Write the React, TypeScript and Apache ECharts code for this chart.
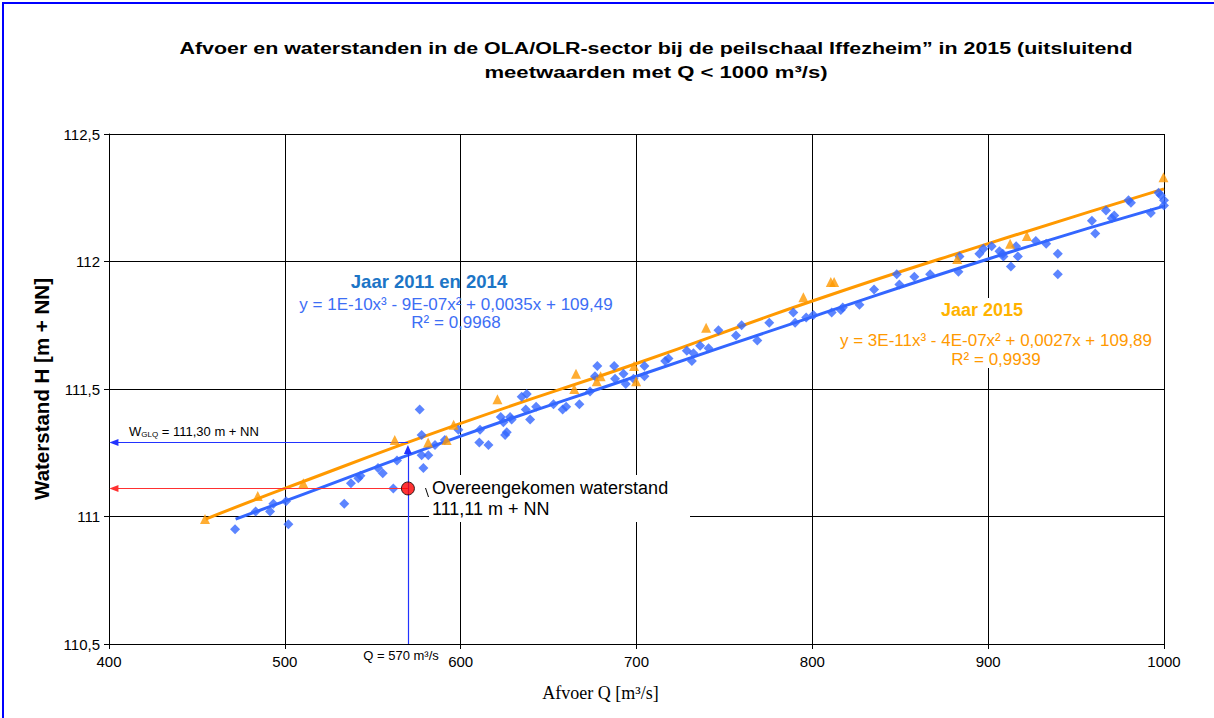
import React, { useEffect, useRef } from "react";
import * as echarts from "echarts";

// ---------- data ----------
const titleLine1 =
  "Afvoer en waterstanden in de OLA/OLR-sector bij de peilschaal Iffezheim\u201d in 2015 (uitsluitend";
const titleLine2 = "meetwaarden met Q < 1000 m\u00b3/s)";
const xAxisName = "Afvoer Q [m\u00b3/s]";
const yAxisName = "Waterstand H [m + NN]";

const xRange = [400, 1000];
const xStep = 100;
const yRange = [110.5, 112.5];
const yStep = 0.5;

// Measurements 2011 and 2014 [Q, H]
const meas2011_2014: number[][] = [
  [471.7, 110.95], [483.4, 111.02], [491.6, 111.02], [493.5, 111.05], [500.7, 111.06],
  [502, 110.97], [533.8, 111.05], [537.6, 111.13], [541.8, 111.15], [543, 111.16],
  [553, 111.19], [555.7, 111.17], [561.7, 111.11], [563.8, 111.22], [576.7, 111.42],
  [577.8, 111.32], [577.8, 111.24], [578.8, 111.19], [581.6, 111.24], [585.4, 111.28],
  [591, 111.3], [598.7, 111.34], [611, 111.34], [610.6, 111.29], [615.8, 111.28],
  [622.8, 111.39], [624.3, 111.37], [625.3, 111.32], [626.2, 111.33], [628.1, 111.39],
  [629, 111.38], [634.7, 111.47], [637.6, 111.48], [637, 111.42], [639.5, 111.38],
  [642.9, 111.43], [652.8, 111.44], [658, 111.42], [660, 111.43], [667.5, 111.44],
  [673.6, 111.49], [676.4, 111.55], [677.7, 111.59], [687.3, 111.59], [687.8, 111.54],
  [692.6, 111.56], [693.9, 111.52], [698.3, 111.54], [704.5, 111.59], [704.5, 111.55],
  [716.3, 111.61], [718.2, 111.62], [728.6, 111.65], [731.5, 111.61], [732.4, 111.64],
  [736.2, 111.67], [741, 111.66], [746.6, 111.73], [756.6, 111.71], [759.8, 111.75],
  [768.7, 111.69], [775.5, 111.76], [789.2, 111.8], [790.2, 111.76], [796.5, 111.78],
  [800.6, 111.79], [811, 111.8], [816.2, 111.81], [817.3, 111.82], [826.8, 111.83],
  [835.1, 111.89], [848, 111.95], [849.5, 111.91], [858, 111.94], [867, 111.95],
  [883.1, 111.96], [883.7, 112.02], [895, 112.03], [897.3, 112.05], [902, 112.06],
  [906.4, 112.04], [908.3, 112.03], [908.7, 112.02], [912.9, 111.98], [915.9, 112.06],
  [916.9, 112.02], [927.1, 112.08], [933, 112.07], [939.6, 112.03], [939.6, 111.95],
  [959, 112.16], [960.9, 112.11], [967, 112.2], [970.3, 112.17], [971.7, 112.18],
  [979.8, 112.24], [981.2, 112.23], [992.5, 112.19], [996.9, 112.27], [998.2, 112.26],
  [1000, 112.24], [1000, 112.22],
];

// Measurements 2015 [Q, H]
const meas2015: number[][] = [
  [454.6, 110.99], [484.6, 111.08], [510.5, 111.13], [562.5, 111.3], [581.5, 111.29],
  [592, 111.3], [596, 111.36], [620.9, 111.46], [664.6, 111.5], [665.6, 111.56],
  [677.4, 111.53], [679.6, 111.55], [698.6, 111.59], [699.8, 111.53], [739.6, 111.74],
  [794.9, 111.86], [810.5, 111.92], [812.4, 111.92], [882.4, 112.01], [912.5, 112.07],
  [922, 112.1], [999.7, 112.33],
];

// Trend lines [Q, H]
const trend2011_2014: number[][] = [
  [472, 110.99], [500, 111.06], [600, 111.315], [700, 111.55], [800, 111.783], [900, 112.01], [1000, 112.217],
];
const trend2015: number[][] = [
  [455, 110.99], [500, 111.11], [600, 111.365], [700, 111.6], [800, 111.845], [900, 112.07], [1000, 112.285],
];

const label2011 = "Jaar 2011 en 2014";
const eq2011 = "y = 1E-10x\u00b3 - 9E-07x\u00b2 + 0,0035x + 109,49";
const r2011 = "R\u00b2 = 0,9968";
const label2015 = "Jaar 2015";
const eq2015 = "y = 3E-11x\u00b3 - 4E-07x\u00b2 + 0,0027x + 109,89";
const r2015 = "R\u00b2 = 0,9939";

// Annotation values
const qGLQ = 570;
const hGLQ = 111.29;
const hGLQArrowTip = 111.263;
const hAgreed = 111.11;
const qArrowEnd = 402.8;
const textGLQ = ["W", "GLQ", " = 111,30 m + NN"];
const textQ = "Q = 570 m\u00b3/s";
const textAgreed1 = "Overeengekomen waterstand";
const textAgreed2 = "111,11 m + NN";

const FONT = "'Liberation Sans', Arial, sans-serif";
const SERIF = "'Liberation Serif', 'Times New Roman', serif";

function arrowSeries(name: string, from: number[], to: number[], color: string, size: number[]) {
  return {
    type: "scatter",
    name,
    data: [],
    silent: true,
    markLine: {
      silent: true,
      animation: false,
      symbol: ["none", "triangle"],
      symbolSize: size,
      label: { show: false },
      emphasis: { disabled: true },
      lineStyle: { color, width: 1.2, type: "solid" },
      data: [[{ coord: from }, { coord: to }]],
    },
  };
}

export default function App() {
  const ref = useRef<HTMLDivElement>(null);

  useEffect(() => {
    document.body.style.margin = "0";
    if (!ref.current) return;
    const chart = echarts.init(ref.current, undefined, { renderer: "svg" });

    const option: any = {
      animation: false,
      backgroundColor: "#ffffff",
      grid: { left: 109, right: 50, top: 134, bottom: 74, containLabel: false },
      xAxis: {
        type: "value",
        min: xRange[0],
        max: xRange[1],
        interval: xStep,
        name: xAxisName,
        nameLocation: "middle",
        nameGap: 40,
        nameTextStyle: { fontFamily: SERIF, fontSize: 18, color: "#000", padding: [0, 72, 0, 0] },
        axisLine: { show: true, lineStyle: { color: "#000", width: 1 } },
        axisTick: { show: true, inside: false, length: 5, lineStyle: { color: "#000" } },
        axisLabel: {
          fontFamily: FONT,
          fontSize: 15,
          color: "#000",
          margin: 10,
          formatter: (v: number) => String(v),
        },
        splitLine: { show: true, lineStyle: { color: "#000", width: 1 } },
      },
      yAxis: {
        type: "value",
        min: yRange[0],
        max: yRange[1],
        interval: yStep,
        name: yAxisName,
        nameLocation: "middle",
        nameRotate: 90,
        nameGap: 57,
        nameTextStyle: { fontFamily: FONT, fontSize: 20.5, fontWeight: "bold", color: "#000" },
        axisLine: { show: true, lineStyle: { color: "#000", width: 1 } },
        axisTick: { show: true, inside: false, length: 5, lineStyle: { color: "#000" } },
        axisLabel: {
          fontFamily: FONT,
          fontSize: 15,
          color: "#000",
          margin: 9,
          formatter: (v: number) => String(v).replace(".", ","),
        },
        splitLine: { show: true, lineStyle: { color: "#000", width: 1 } },
      },
      series: [
        arrowSeries("GLQ horizontal", [qGLQ, hGLQ], [qArrowEnd, hGLQ], "#2233ff", [7, 9]),
        arrowSeries("GLQ vertical", [qGLQ, yRange[0]], [qGLQ, hGLQArrowTip], "#2233ff", [8, 9]),
        arrowSeries("Agreed horizontal", [qGLQ, hAgreed], [qArrowEnd, hAgreed], "#ff3030", [7, 9]),
        {
          type: "line",
          name: "Trend 2011 en 2014",
          data: trend2011_2014,
          smooth: true,
          showSymbol: false,
          silent: true,
          z: 3,
          lineStyle: { color: "#3366FF", width: 3 },
        },
        {
          type: "line",
          name: "Trend 2015",
          data: trend2015,
          smooth: true,
          showSymbol: false,
          silent: true,
          z: 3,
          lineStyle: { color: "#FF9900", width: 3 },
        },
        {
          type: "scatter",
          name: label2011,
          data: meas2011_2014,
          symbol: "diamond",
          symbolSize: 10,
          z: 4,
          itemStyle: { color: "#3366FF" },
        },
        {
          type: "scatter",
          name: label2015,
          data: meas2015,
          symbol: "triangle",
          symbolSize: 10,
          z: 5,
          itemStyle: { color: "#FF9900" },
        },
        {
          type: "scatter",
          name: "Overeengekomen waterstand",
          data: [[qGLQ, hAgreed]],
          symbol: "circle",
          symbolSize: 13,
          z: 6,
          itemStyle: { color: "#FF0000", borderColor: "#000", borderWidth: 1 },
        },
      ],
      graphic: [
        {
          type: "rect",
          z: 100,
          shape: { x: 3, y: 3, width: 1400, height: 900 },
          style: { fill: "none", stroke: "#0000FF", lineWidth: 2 },
          silent: true,
        },
        {
          type: "text",
          z: 100,
          x: 656,
          y: 48,
          scaleX: 1.26,
          style: {
            text: titleLine1,
            fontFamily: FONT,
            fontSize: 17,
            fontWeight: "bold",
            fill: "#000",
            align: "center",
            verticalAlign: "middle",
          },
        },
        {
          type: "text",
          z: 100,
          x: 656,
          y: 72,
          scaleX: 1.3,
          style: {
            text: titleLine2,
            fontFamily: FONT,
            fontSize: 17,
            fontWeight: "bold",
            fill: "#000",
            align: "center",
            verticalAlign: "middle",
          },
        },
        // 2011/2014 labels
        {
          type: "text",
          z: 100,
          x: 429,
          y: 281,
          style: {
            text: label2011,
            fontFamily: FONT,
            fontSize: 18.5,
            fontWeight: "bold",
            fill: "#1C75C6",
            align: "center",
            verticalAlign: "middle",
          },
        },
        {
          type: "text",
          z: 100,
          x: 456,
          y: 304,
          style: { text: eq2011, fontFamily: FONT, fontSize: 17, fill: "#3D6EF5", align: "center", verticalAlign: "middle" },
        },
        {
          type: "text",
          z: 100,
          x: 456,
          y: 322,
          style: { text: r2011, fontFamily: FONT, fontSize: 17, fill: "#3D6EF5", align: "center", verticalAlign: "middle" },
        },
        // 2015 labels (white background behind the text, below the data)
        {
          type: "rect",
          z: 1,
          shape: { x: 838, y: 298, width: 316, height: 70 },
          style: { fill: "#fff" },
          silent: true,
        },
        {
          type: "text",
          z: 100,
          x: 982,
          y: 310,
          style: {
            text: label2015,
            fontFamily: FONT,
            fontSize: 18,
            fontWeight: "bold",
            fill: "#FFB300",
            align: "center",
            verticalAlign: "middle",
          },
        },
        {
          type: "text",
          z: 100,
          x: 996,
          y: 340,
          style: { text: eq2015, fontFamily: FONT, fontSize: 17, fill: "#FF9900", align: "center", verticalAlign: "middle" },
        },
        {
          type: "text",
          z: 100,
          x: 996,
          y: 359,
          style: { text: r2015, fontFamily: FONT, fontSize: 17, fill: "#FF9900", align: "center", verticalAlign: "middle" },
        },
        // Agreed water level box
        {
          type: "rect",
          z: 1,
          shape: { x: 429, y: 475, width: 261, height: 47 },
          style: { fill: "#fff" },
          silent: true,
        },
        {
          type: "line",
          z: 100,
          shape: { x1: 425.5, y1: 488, x2: 428.5, y2: 497 },
          style: { stroke: "#000", lineWidth: 1 },
          silent: true,
        },
        {
          type: "text",
          z: 100,
          x: 432,
          y: 488,
          style: { text: textAgreed1, fontFamily: FONT, fontSize: 18, fill: "#000", align: "left", verticalAlign: "middle" },
        },
        {
          type: "text",
          z: 100,
          x: 432,
          y: 509,
          style: { text: textAgreed2, fontFamily: FONT, fontSize: 18, fill: "#000", align: "left", verticalAlign: "middle" },
        },
        // W_GLQ label
        {
          type: "text",
          z: 100,
          x: 129,
          y: 431,
          style: {
            text: `{a|${textGLQ[0]}}{b|${textGLQ[1]}}{a|${textGLQ[2]}}`,
            align: "left",
            verticalAlign: "middle",
            rich: {
              a: { fontFamily: FONT, fontSize: 13, fill: "#000", color: "#000" },
              b: { fontFamily: FONT, fontSize: 8, fill: "#000", color: "#000", padding: [6, 0, 0, 0] },
            },
          },
        },
        {
          type: "text",
          z: 100,
          x: 401,
          y: 655,
          style: { text: textQ, fontFamily: FONT, fontSize: 13, fill: "#000", align: "center", verticalAlign: "middle" },
        },
      ],
    };

    chart.setOption(option);
    return () => {
      chart.dispose();
    };
  }, []);

  return <div ref={ref} style={{ width: 1214, height: 718 }} />;
}
